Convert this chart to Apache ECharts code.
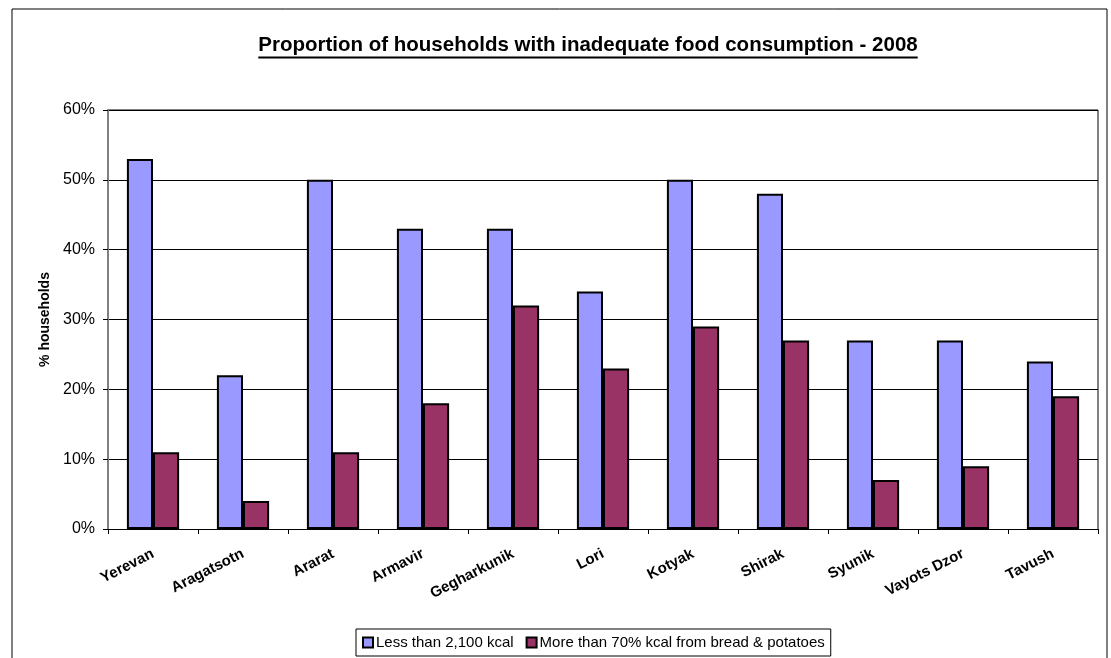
<!DOCTYPE html>
<html><head><meta charset="utf-8">
<script src="https://cdn.jsdelivr.net/npm/echarts@6/dist/echarts.min.js"></script>
<style>html,body{margin:0;padding:0;background:#fff}#c{width:1111px;height:658px}</style>
</head><body><div id="c"></div>
<script>
const categories = ['Yerevan','Aragatsotn','Ararat','Armavir','Gegharkunik','Lori','Kotyak','Shirak','Syunik','Vayots Dzor','Tavush'];
const lessThan2100 = [53,22,50,43,43,34,50,48,27,27,24];
const breadPotatoes = [11,4,11,18,32,23,29,27,7,9,19];
const seriesNames = ['Less than 2,100 kcal','More than 70% kcal from bread & potatoes'];
const titleText = 'Proportion of households with inadequate food consumption - 2008';
const yAxisName = '% households';

const F = 'Liberation Sans, Arial, sans-serif';
const titleFont = 'bold 20.5px ' + F;
const titleX = 588, titleBaseline = 56;
const ctx = document.createElement('canvas').getContext('2d');
ctx.font = titleFont;
const tw = ctx.measureText(titleText).width;

const chart = echarts.init(document.getElementById('c'));
chart.setOption({
  animation:false,
  graphic:[
    {type:'rect',shape:{x:12,y:9,width:1095,height:700},style:{fill:null,stroke:'#000',lineWidth:1},silent:true},
    {type:'text',x:titleX,y:titleBaseline,style:{text:titleText,font:titleFont,fill:'#000',textAlign:'center',textVerticalAlign:'bottom'},silent:true},
    {type:'line',shape:{x1:titleX-tw/2,y1:titleBaseline+1.5,x2:titleX+tw/2,y2:titleBaseline+1.5},style:{stroke:'#000',lineWidth:2},silent:true},
    {type:'line',shape:{x1:108,y1:110,x2:1098,y2:110},style:{stroke:'#808080',lineWidth:2},silent:true},
    {type:'line',shape:{x1:1098,y1:110,x2:1098,y2:529},style:{stroke:'#808080',lineWidth:2},silent:true}
  ],
  legend:{bottom:2,left:356,itemWidth:10,itemHeight:10,itemGap:12,borderColor:'#000',borderWidth:1,padding:[6,6],
    icon:'rect',textStyle:{fontFamily:F,fontSize:15,color:'#000',padding:[0,0,0,-2]}},
  grid:{left:108,right:13,top:110,bottom:129},
  xAxis:{type:'category',data:categories,
    axisLine:{lineStyle:{color:'#000',width:1}},
    axisTick:{show:true,length:5,lineStyle:{color:'#000'}},
    axisLabel:{rotate:27,margin:24,fontFamily:F,fontWeight:'bold',fontSize:15,color:'#000'}},
  yAxis:{type:'value',min:0,max:60,interval:10,name:yAxisName,nameLocation:'middle',nameGap:55,
    nameTextStyle:{fontFamily:F,fontWeight:'bold',fontSize:14,color:'#000'},
    axisLine:{show:true,lineStyle:{color:'#808080',width:2}},
    axisTick:{show:true,length:5,lineStyle:{color:'#000'}},
    axisLabel:{formatter:'{value}%',margin:13,fontFamily:F,fontSize:16,color:'#000'},
    splitLine:{lineStyle:{color:'#000',width:1}}},
  series:[
    {name:seriesNames[0],type:'bar',data:lessThan2100,barGap:'0%',barCategoryGap:'42%',
      itemStyle:{color:'#9999FF',borderColor:'#000',borderWidth:2}},
    {name:seriesNames[1],type:'bar',data:breadPotatoes,
      itemStyle:{color:'#993366',borderColor:'#000',borderWidth:2}}
  ]
});
</script></body></html>
